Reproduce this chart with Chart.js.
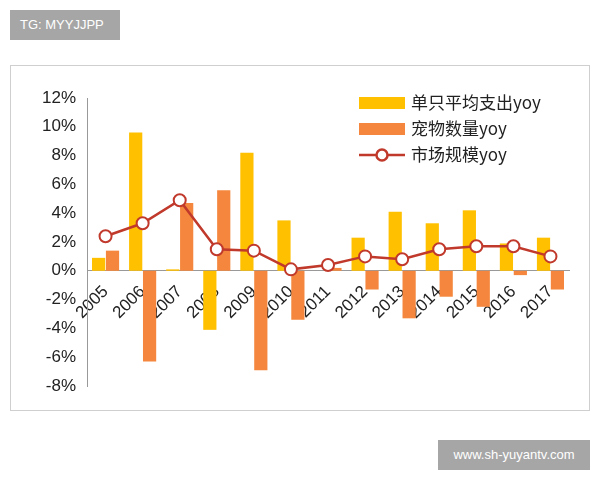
<!DOCTYPE html>
<html>
<head>
<meta charset="utf-8">
<script src="https://cdn.jsdelivr.net/npm/chart.js@4"></script>
<style>
body { margin: 0; background: #fff; width: 600px; height: 480px; position: relative; font-family: "Liberation Sans", Arial, sans-serif; }
.tag { position: absolute; background: #a6a6a6; color: #fff; font-size: 13px; }
#tl { left: 10px; top: 10px; width: 110px; height: 30px; line-height: 30px; padding-left: 10px; box-sizing: border-box; }
#br { left: 438px; top: 440px; width: 152px; height: 30px; line-height: 30px; text-align: center; }
#panel { position: absolute; left: 10px; top: 65px; width: 580px; height: 346px; border: 1px solid #cfcfcf; box-sizing: border-box; }
</style>
</head>
<body>
<div class="tag" id="tl">TG: MYYJJPP</div>
<div class="tag" id="br">www.sh-yuyantv.com</div>
<div id="panel"><canvas id="myChart" width="578" height="344"></canvas></div>
<script>
const years = ["2005","2006","2007","2008","2009","2010","2011","2012","2013","2014","2015","2016","2017"];
const spend = [0.9, 9.6, 0.1, -4.1, 8.2, 3.5, 0.0, 2.3, 4.1, 3.3, 4.2, 1.9, 2.3];
const pets = [1.4, -6.3, 4.7, 5.6, -6.9, -3.4, 0.2, -1.3, -3.3, -1.8, -2.5, -0.3, -1.3];
const market = [2.4, 3.3, 4.9, 1.5, 1.4, 0.1, 0.4, 1.0, 0.8, 1.5, 1.7, 1.7, 1.0];

// legend drawn inside the plot area, top right
const innerLegend = {
    id: 'innerLegend',
    afterDraw(chart) {
        const ctx = chart.ctx;
        const x = 348, ys = [37, 63, 89];
        ctx.save();
        ctx.font = '17px "Noto Sans CJK SC", sans-serif';
        ctx.textBaseline = 'middle';
        chart.data.datasets.forEach((ds, i) => {
            const y = ys[i];
            if (ds.type === 'line') {
                ctx.strokeStyle = ds.borderColor; ctx.lineWidth = 2.5;
                ctx.beginPath(); ctx.moveTo(x, y); ctx.lineTo(x + 46, y); ctx.stroke();
                ctx.fillStyle = '#fff'; ctx.beginPath(); ctx.arc(x + 23, y, 5.5, 0, Math.PI * 2); ctx.fill(); ctx.stroke();
            } else {
                ctx.fillStyle = ds.backgroundColor; ctx.fillRect(x, y - 6, 46, 12);
            }
            ctx.fillStyle = '#222';
            ctx.fillText(ds.label, x + 52, y);
        });
        ctx.restore();
    }
};

let myChart = new Chart("myChart", {
    type: "bar",
    data: {
        labels: years,
        datasets: [
            { label: "单只平均支出yoy", data: spend, backgroundColor: "#FFC000", order: 2 },
            { label: "宠物数量yoy", data: pets, backgroundColor: "#F4873D", order: 2 },
            { type: "line", label: "市场规模yoy", data: market, borderColor: "#C0392B", borderWidth: 2.5,
              pointBackgroundColor: "#fff", pointBorderColor: "#C0392B", pointBorderWidth: 2, pointRadius: 6, order: 1 }
        ]
    },
    plugins: [innerLegend],
    options: {
        responsive: false,
        animation: false,
        layout: { padding: { top: 32, right: 20, left: 28, bottom: 24 } },
        datasets: { bar: { categoryPercentage: 0.75, barPercentage: 0.95 } },
        plugins: { legend: { display: false }, tooltip: { enabled: false } },
        scales: {
            x: {
                position: { y: 0 },
                grid: { display: false, drawTicks: true },
                border: { color: '#999' },
                ticks: { color: '#222', font: { size: 17 }, maxRotation: 45, minRotation: 45 }
            },
            y: {
                min: -8, max: 12,
                grid: { display: false, drawTicks: true },
                border: { color: '#999' },
                ticks: { stepSize: 2, color: '#222', font: { size: 17 }, callback: v => v + '%' }
            }
        }
    }
});
</script>
</body>
</html>
